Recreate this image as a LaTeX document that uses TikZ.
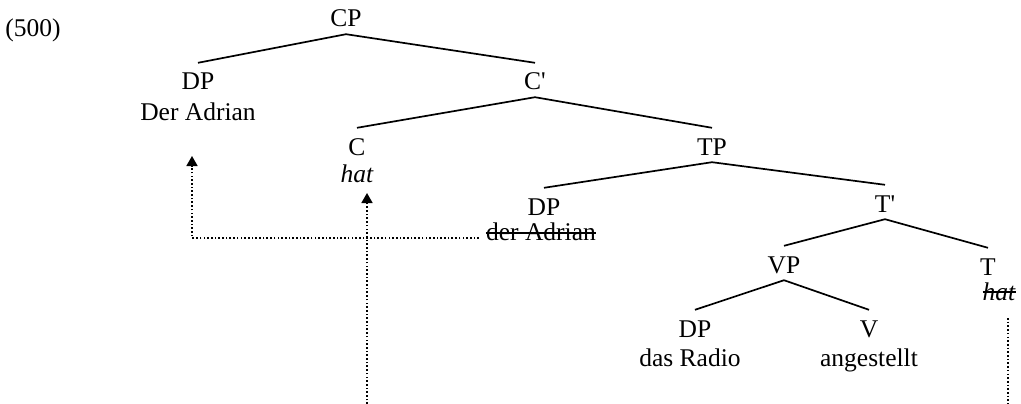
\documentclass[tikz,border=0pt]{standalone}
\usepackage{fontspec}
\newfontfamily\treefont{Liberation Serif}
\usetikzlibrary{arrows.meta}
\begin{document}
\begin{tikzpicture}[x=1pt,y=-1pt,
  every node/.style={font=\treefont\fontsize{25.5}{30}\selectfont, text=black},
  cat/.style={anchor=base, inner xsep=0pt, inner ysep=7pt, text height=20pt, text depth=0pt},
  word/.style={anchor=base, inner sep=0pt},
  branch/.style={line width=1.7pt, black},
  move/.style={line width=1.7pt, dash pattern=on 1.6pt off 2.1pt, black},
  tip/.style={-{Triangle[width=11pt,length=10pt]}},
  strike/.style={line width=1.4pt, black}
]
\useasboundingbox (0,0) rectangle (1021,404);
% labels
\node[word] (ex) at (33,37) {(500)};
\node[cat] (CP) at (346,27) {CP};
\node[cat] (DP1) at (198,90) {DP};
\node[word] (w1) at (198,121) {Der Adrian};
\node[cat] (C1) at (535,90) {C'};
\node[cat] (C) at (357,155) {C};
\node[word] (w2) at (357,182) {\itshape hat};
\node[cat] (TP) at (712,155) {TP};
\node[cat] (DP2) at (544,215) {DP};
\node[word] (w3) at (541,240) {der Adrian};
\node[cat] (T1) at (885,212) {T'};
\node[cat] (VP) at (784,273) {VP};
\node[cat] (T) at (988,275) {T};
\node[word] (w4) at (999,300) {\itshape hat};
\node[cat] (DP3) at (695,337) {DP};
\node[word] (w5) at (690,366) {das Radio};
\node[cat] (V) at (869,337) {V};
\node[word] (w6) at (869,366) {angestellt};
% branches
\draw[branch] (CP.south) -- (DP1.north);
\draw[branch] (CP.south) -- (C1.north);
\draw[branch] (C1.south) -- (C.north);
\draw[branch] (C1.south) -- (TP.north);
\draw[branch] (TP.south) -- (DP2.north);
\draw[branch] (TP.south) -- (T1.north);
\draw[branch] (T1.south) -- (VP.north);
\draw[branch] (T1.south) -- (T.north);
\draw[branch] (VP.south) -- (DP3.north);
\draw[branch] (VP.south) -- (V.north);
% strike-throughs
\draw[strike] ([yshift=7pt]w3.base west) -- ([yshift=7pt]w3.base east);
\draw[strike] ([yshift=8pt]w4.base west) -- ([yshift=8pt]w4.base east);
% movement paths
\coordinate (m1) at (192,238);
\coordinate (t1) at (192,156);
\draw[move,tip] ([xshift=-7pt,yshift=2pt]w3.base west) -- (m1) -- (t1);
\coordinate (b1) at (367,404);
\coordinate (t2) at (367,193);
\draw[move,tip] (b1) -- (t2);
\coordinate (s2) at (1008,318);
\coordinate (b2) at (1008,404);
\draw[move] (s2) -- (b2);
\end{tikzpicture}
\end{document}
